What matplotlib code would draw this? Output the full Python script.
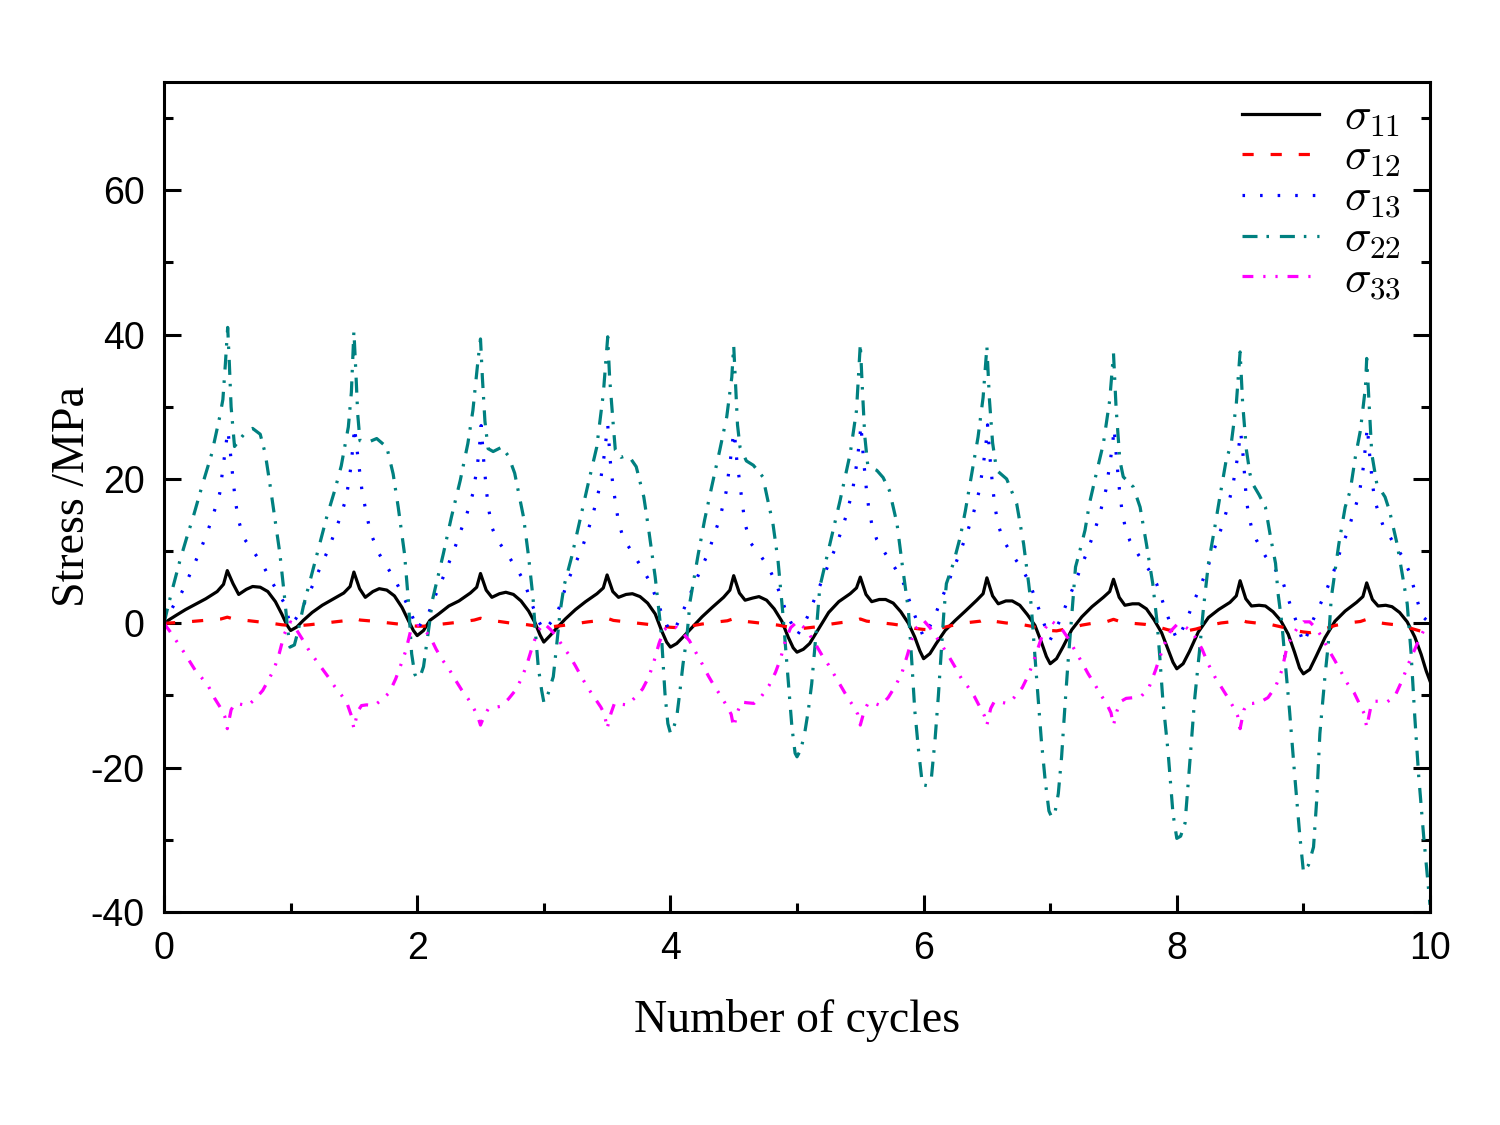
import numpy as np
import matplotlib
matplotlib.use('Agg')
import matplotlib.pyplot as plt
from matplotlib.ticker import MultipleLocator

plt.rcParams['mathtext.fontset'] = 'cm'
plt.rcParams['axes.unicode_minus'] = False

# ---------------- data ----------------
cycles = list(range(10))

# sigma_11 : sample phases inside each cycle and values per cycle
phase_11 = [0, 0.05, 0.1, 0.17, 0.25, 0.33, 0.42, 0.47, 0.5, 0.545, 0.59, 0.65, 0.7, 0.76, 0.82, 0.88, 0.93, 0.97]
s11_rows = [
    [0, 0.6, 1.15, 1.9, 2.65, 3.4, 4.4, 5.4, 7.3, 5.5, 4.0, 4.7, 5.1, 5.0, 4.4, 3.0, 1.3, -0.2],
    [-1.0, -0.5, 0.4, 1.5, 2.5, 3.3, 4.2, 5.1, 7.1, 4.8, 3.6, 4.4, 4.8, 4.6, 3.8, 2.2, 0.4, -1.0],
    [-1.7, -1.0, 0.4, 1.3, 2.4, 3.1, 4.2, 5.0, 6.9, 4.6, 3.6, 4.1, 4.3, 4.0, 3.1, 1.7, 0.1, -1.6],
    [-2.6, -1.7, -0.7, 0.6, 1.9, 3.0, 4.1, 4.9, 6.7, 4.4, 3.6, 4.0, 4.1, 3.7, 2.8, 1.3, -1.0, -2.6],
    [-3.3, -2.8, -1.9, -0.6, 0.9, 2.2, 3.6, 4.6, 6.6, 4.2, 3.2, 3.5, 3.7, 3.2, 2.0, 0.3, -1.9, -3.4],
    [-4.0, -3.6, -2.8, -0.8, 1.5, 3.0, 4.1, 4.9, 6.4, 4.0, 3.0, 3.3, 3.3, 2.8, 1.6, 0.0, -1.9, -3.8],
    [-4.9, -4.2, -2.8, -1.0, 0.4, 1.7, 3.2, 4.1, 6.3, 3.8, 2.7, 3.1, 3.1, 2.5, 1.2, -0.3, -2.6, -4.6],
    [-5.6, -4.9, -3.3, -0.9, 0.9, 2.3, 3.6, 4.4, 6.1, 3.6, 2.5, 2.7, 2.7, 2.0, 0.5, -1.3, -3.6, -5.4],
    [-6.3, -5.6, -3.9, -1.2, 0.8, 1.9, 2.9, 3.8, 5.9, 3.4, 2.4, 2.5, 2.4, 1.6, 0.4, -1.5, -4.0, -6.2],
    [-7.0, -6.4, -4.6, -2.0, 0.3, 1.7, 2.9, 3.7, 5.6, 3.3, 2.4, 2.5, 2.3, 1.5, 0.2, -1.9, -4.3, -6.6],
]
s11_end = -8.0

# sigma_12
phase_12 = [0, 0.05, 0.15, 0.25, 0.35, 0.45, 0.5, 0.55, 0.65, 0.75, 0.85, 0.93]
s12_rows = [
    [0, 0.05, 0.15, 0.3, 0.45, 0.6, 0.85, 0.6, 0.4, 0.2, 0.0, -0.2],
    [-0.3, -0.35, -0.2, 0.0, 0.2, 0.4, 0.7, 0.45, 0.3, 0.1, -0.1, -0.3],
    [-0.4, -0.4, -0.2, 0.0, 0.2, 0.45, 0.7, 0.45, 0.25, 0.0, -0.15, -0.35],
    [-0.45, -0.5, -0.3, -0.05, 0.2, 0.4, 0.7, 0.4, 0.2, 0.0, -0.2, -0.4],
    [-0.55, -0.6, -0.4, -0.1, 0.15, 0.35, 0.65, 0.35, 0.15, -0.05, -0.25, -0.5],
    [-0.65, -0.7, -0.5, -0.15, 0.1, 0.3, 0.6, 0.3, 0.1, -0.1, -0.35, -0.7],
    [-0.85, -0.9, -0.6, -0.2, 0.1, 0.3, 0.65, 0.3, 0.05, -0.1, -0.4, -0.8],
    [-1.0, -1.05, -0.7, -0.25, 0.05, 0.25, 0.55, 0.25, 0.0, -0.15, -0.5, -0.9],
    [-1.1, -1.15, -0.8, -0.3, 0.05, 0.25, 0.5, 0.2, 0.0, -0.2, -0.6, -1.0],
    [-1.2, -1.3, -0.9, -0.3, 0.05, 0.25, 0.55, 0.2, -0.05, -0.25, -0.7, -1.1],
]
s12_end = -1.4

# sigma_13
phase_13 = [0, 0.04, 0.08, 0.13, 0.18, 0.24, 0.3, 0.35, 0.39, 0.44, 0.475, 0.495, 0.505, 0.525, 0.548, 0.565, 0.59, 0.63, 0.7, 0.78, 0.84, 0.91, 0.95]
s13_rows = [
    [0, 1.3, 2.6, 3.9, 5.8, 8.2, 10.7, 13.0, 15.1, 18.0, 22.8, 25.5, 26.7, 23.5, 19.5, 16.8, 14.2, 11.8, 10.1, 8.1, 6.1, 4.0, 2.8],
    [-0.3, 0.6, 1.8, 3.5, 5.5, 8.0, 10.3, 12.7, 14.6, 17.4, 21.5, 25.0, 27.2, 24.0, 20.6, 18.2, 16.0, 12.6, 9.6, 7.3, 5.5, 3.0, 1.5],
    [-0.8, 0.2, 0.9, 3.3, 5.3, 7.9, 10.6, 13.1, 15.0, 18.0, 21.8, 25.1, 27.4, 22.6, 18.2, 15.8, 13.3, 11.6, 9.9, 7.7, 6.0, 2.5, 0.6],
    [-1.0, -0.2, 0.6, 2.5, 5.5, 7.9, 10.3, 12.9, 15.2, 18.8, 23.0, 26.0, 27.5, 22.5, 18.8, 16.9, 14.0, 11.7, 9.8, 7.5, 5.7, 2.4, 0.5],
    [-1.2, -0.6, 0.8, 3.0, 5.0, 7.5, 9.8, 12.5, 14.5, 18.2, 22.8, 25.8, 26.5, 22.5, 19.5, 17.0, 13.8, 11.2, 9.7, 7.6, 5.3, 1.8, 0.2],
    [-1.7, -0.6, 0.8, 3.0, 5.2, 7.8, 10.3, 12.8, 15.0, 18.5, 22.5, 25.5, 27.5, 22.8, 18.6, 16.2, 13.8, 11.6, 9.6, 7.5, 5.6, 2.0, 0.2],
    [-1.9, -0.7, 0.6, 2.9, 5.0, 7.7, 10.4, 12.9, 15.0, 18.4, 22.4, 25.3, 27.5, 22.8, 18.5, 16.0, 13.6, 11.5, 9.5, 7.5, 5.5, 2.0, 0.0],
    [-2.3, -0.9, 0.5, 2.8, 4.9, 7.6, 10.3, 12.8, 15.0, 18.5, 22.5, 25.2, 27.0, 22.6, 18.3, 15.9, 13.5, 11.4, 9.4, 7.4, 5.5, 1.9, -0.1],
    [-2.2, -1.0, 0.5, 2.9, 4.8, 7.6, 10.5, 13.1, 15.4, 18.8, 22.5, 25.1, 26.5, 23.0, 17.5, 15.2, 13.3, 11.5, 9.3, 7.4, 5.6, 1.8, 0.0],
    [-2.8, -1.2, 0.6, 2.5, 4.5, 7.2, 10.5, 12.7, 15.0, 17.8, 21.8, 25.5, 27.2, 23.0, 19.0, 17.0, 15.5, 13.5, 11.5, 9.3, 7.0, 2.5, 0.8],
]
s13_end = 0.0

# sigma_22 (explicit sample points)
s22_x = [
    0, 0.03, 0.06, 0.1, 0.126, 0.18, 0.23, 0.3, 0.377, 0.44, 0.465, 0.485, 0.503, 0.515, 0.53, 0.557, 0.6, 0.65, 0.7, 0.76, 0.8, 0.84, 0.88, 0.915, 0.95, 0.975, 0.995,
    1.03, 1.06, 1.1, 1.127, 1.2, 1.285, 1.35, 1.4, 1.456, 1.48, 1.5, 1.515, 1.53, 1.548, 1.6, 1.68, 1.76, 1.81, 1.85, 1.9, 1.93, 1.956, 1.98, 2.0,
    2.025, 2.05, 2.075, 2.1, 2.12, 2.206, 2.27, 2.34, 2.40, 2.44, 2.48, 2.5, 2.515, 2.535, 2.56, 2.6, 2.667, 2.72, 2.77, 2.84, 2.88, 2.915, 2.935, 2.956, 2.983, 3.0,
    3.015, 3.035, 3.075, 3.10, 3.128, 3.16, 3.22, 3.286, 3.35, 3.418, 3.47, 3.505, 3.52, 3.55, 3.565, 3.61, 3.667, 3.73, 3.79, 3.826, 3.88, 3.915, 3.93, 3.944, 3.957, 3.98, 4.0,
    4.02, 4.05, 4.076, 4.10, 4.13, 4.155, 4.22, 4.27, 4.326, 4.39, 4.445, 4.485, 4.5, 4.515, 4.53, 4.55, 4.6, 4.655, 4.73, 4.77, 4.81, 4.85, 4.89, 4.93, 4.96, 4.985, 5.0,
    5.03, 5.06, 5.09, 5.116, 5.155, 5.18, 5.26, 5.34, 5.42, 5.47, 5.5, 5.515, 5.535, 5.56, 5.63, 5.68, 5.73, 5.79, 5.83, 5.88, 5.906, 5.93, 5.96, 5.985, 6.0,
    6.03, 6.06, 6.09, 6.116, 6.14, 6.16, 6.18, 6.235, 6.29, 6.33, 6.38, 6.43, 6.47, 6.5, 6.52, 6.545, 6.577, 6.656, 6.735, 6.79, 6.83, 6.85, 6.88, 6.906, 6.93, 6.96, 6.99, 7.01,
    7.04, 7.064, 7.09, 7.116, 7.14, 7.17, 7.2, 7.235, 7.275, 7.31, 7.37, 7.42, 7.47, 7.5, 7.52, 7.55, 7.577, 7.656, 7.71, 7.76, 7.81, 7.845, 7.865, 7.89, 7.93, 7.97, 8.0,
    8.03, 8.065, 8.10, 8.14, 8.18, 8.21, 8.25, 8.30, 8.34, 8.39, 8.43, 8.47, 8.5, 8.52, 8.55, 8.578, 8.6, 8.65, 8.7, 8.74, 8.78, 8.80, 8.83, 8.855, 8.89, 8.93, 8.97, 9.0,
    9.04, 9.08, 9.105, 9.13, 9.17, 9.197, 9.22, 9.28, 9.33, 9.37, 9.41, 9.45, 9.49, 9.5, 9.52, 9.54, 9.58, 9.645, 9.68, 9.74, 9.78, 9.82, 9.85, 9.88, 9.91, 9.95, 10.0,
]
s22_y = [
    0, 2.2, 4.3, 7.0, 8.7, 11.9, 14.7, 19.0, 23.5, 28.6, 31.0, 36.0, 41.0, 36.5, 30.0, 24.5, 25.5, 26.6, 27.0, 26.2, 23.5, 18.9, 14.0, 9.7, 4.0, -0.5, -3.3,
    -3.0, -1.0, 2.3, 4.1, 9.0, 14.7, 18.5, 21.8, 27.2, 32.0, 40.5, 35.0, 29.0, 25.3, 25.0, 25.6, 24.4, 20.7, 16.1, 9.6, 3.2, -4.2, -7.0, -7.7,
    -7.3, -6.0, -2.8, 0.4, 3.2, 9.6, 14.7, 19.8, 24.9, 29.5, 36.4, 39.4, 34.0, 28.0, 24.2, 23.8, 24.4, 23.2, 20.8, 14.7, 9.2, 3.5, -1.5, -6.0, -9.3, -10.9,
    -10.6, -9.7, -7.4, -3.3, 1.5, 5.2, 9.2, 14.3, 19.3, 24.4, 31.8, 39.7, 34.0, 27.2, 24.0, 23.0, 23.3, 21.7, 17.5, 13.3, 6.4, 0.8, -1.9, -6.0, -9.7, -13.9, -15.2,
    -14.8, -13.0, -9.3, -5.6, -1.9, 3.0, 9.6, 14.3, 18.9, 24.0, 28.6, 34.1, 38.5, 33.0, 27.5, 24.4, 22.5, 21.9, 20.3, 17.0, 13.8, 8.7, 1.0, -7.9, -14.4, -18.0, -18.5,
    -17.5, -15.3, -12.0, -8.4, -0.5, 5.0, 11.0, 17.0, 23.5, 29.5, 38.7, 33.0, 26.0, 21.7, 21.2, 20.2, 18.4, 13.8, 8.3, 1.8, -5.1, -12.0, -17.6, -21.5, -22.4,
    -22.5, -21.7, -16.2, -10.2, -3.7, 1.5, 5.5, 8.3, 12.0, 15.6, 20.7, 25.8, 31.3, 38.3, 31.0, 25.0, 21.2, 20.0, 16.6, 11.0, 5.5, 2.5, -4.7, -10.7, -16.2, -21.7, -26.0, -26.8,
    -26.0, -23.6, -18.5, -11.6, -5.6, 1.0, 7.8, 10.1, 12.9, 16.6, 21.2, 24.9, 30.9, 37.4, 30.0, 22.6, 20.3, 18.9, 16.1, 11.0, 5.5, 0.0, -4.5, -10.7, -17.6, -26.4, -29.8,
    -29.5, -27.7, -19.9, -10.7, -3.7, 2.0, 8.3, 13.3, 17.5, 22.6, 24.9, 30.4, 37.6, 30.5, 24.0, 20.7, 19.3, 17.8, 16.1, 12.0, 8.3, 4.1, 0.0, -5.1, -12.0, -20.8, -29.1, -34.4,
    -33.5, -31.0, -24.5, -15.3, -7.4, -2.8, 3.5, 11.0, 16.1, 18.4, 23.0, 26.7, 32.7, 36.7, 30.0, 23.5, 19.3, 17.5, 15.6, 11.0, 6.9, 2.7, -4.0, -13.0, -21.0, -29.5, -39.0,
]

# sigma_33
phase_33 = [0, 0.05, 0.1, 0.15, 0.2, 0.25, 0.3, 0.35, 0.4, 0.45, 0.48, 0.5, 0.53, 0.56, 0.6, 0.66, 0.72, 0.78, 0.83, 0.87, 0.91, 0.95]
s33_rows = [
    [0, -1.2, -2.5, -3.8, -5.2, -6.6, -7.6, -8.7, -10.4, -11.8, -12.9, -14.6, -12.0, -11.1, -11.2, -11.4, -10.5, -9.3, -7.7, -6.3, -4.2, -1.5],
    [0.2, -1.0, -2.4, -3.9, -5.1, -6.3, -7.5, -8.8, -9.9, -11.3, -12.8, -14.6, -12.2, -11.4, -11.3, -11.4, -10.6, -9.6, -7.7, -5.8, -3.8, -0.9],
    [-0.3, -0.8, -1.8, -3.6, -5.1, -6.3, -7.8, -9.2, -10.4, -11.9, -13.0, -14.1, -12.8, -11.9, -11.7, -11.5, -10.5, -9.2, -7.4, -5.5, -3.2, -1.2],
    [0, -0.8, -1.8, -3.2, -4.4, -5.9, -7.5, -9.0, -10.3, -11.6, -12.6, -14.6, -12.5, -11.0, -11.2, -11.3, -10.3, -9.1, -7.4, -5.3, -2.8, -0.9],
    [-0.3, -0.6, -1.4, -2.4, -4.0, -5.6, -7.3, -8.8, -10.1, -11.6, -12.6, -14.4, -12.3, -10.9, -11.0, -11.1, -10.1, -8.6, -6.8, -4.9, -2.3, -0.6],
    [0.2, -0.5, -1.6, -3.0, -4.5, -5.8, -7.3, -8.8, -10.3, -11.6, -12.6, -14.1, -12.2, -11.1, -11.0, -11.4, -10.3, -8.6, -6.8, -4.5, -2.1, -0.5],
    [0.4, -0.6, -1.9, -3.2, -4.6, -6.1, -7.7, -8.8, -10.1, -11.8, -12.8, -14.1, -11.8, -10.8, -10.9, -11.1, -10.2, -8.9, -7.1, -5.2, -3.1, -1.0],
    [0.4, -0.2, -1.0, -2.3, -3.9, -5.4, -7.0, -8.4, -9.9, -11.3, -12.4, -14.1, -12.0, -10.8, -10.4, -10.3, -10.1, -8.9, -6.6, -4.5, -2.6, -1.1],
    [-0.2, -0.3, -0.9, -2.0, -3.6, -5.7, -7.4, -8.8, -10.2, -11.7, -12.8, -14.6, -12.0, -11.1, -11.1, -10.9, -10.3, -8.8, -6.5, -3.3, -1.8, -0.7],
    [0.2, 0.2, -0.7, -2.0, -3.7, -5.2, -6.8, -8.4, -9.6, -11.4, -12.5, -14.4, -11.8, -10.8, -10.8, -10.9, -10.2, -7.9, -5.6, -4.0, -2.4, -1.0],
]
s33_end = -0.8

labels = [r'$\sigma_{11}$', r'$\sigma_{12}$', r'$\sigma_{13}$', r'$\sigma_{22}$', r'$\sigma_{33}$']
colors = ['black', '#ff0000', '#0000ff', '#008080', '#ff00ff']


def assemble(phases, rows, end):
    xs, ys = [], []
    for k, row in zip(cycles, rows):
        xs.extend([k + p for p in phases])
        ys.extend(row)
    xs.append(10.0)
    ys.append(end)
    return np.array(xs), np.array(ys)


x11, y11 = assemble(phase_11, s11_rows, s11_end)
x12, y12 = assemble(phase_12, s12_rows, s12_end)
x13, y13 = assemble(phase_13, s13_rows, s13_end)
x33, y33 = assemble(phase_33, s33_rows, s33_end)
x22, y22 = np.array(s22_x), np.array(s22_y)

# ---------------- figure ----------------
W, H = 1500, 1125
fig = plt.figure(figsize=(15, 11.25), dpi=100)
ax = fig.add_axes([164 / W, 1 - 912 / H, (1430 - 164) / W, (912 - 82) / H])

lw = 2.3
ax.plot(x11, y11, color=colors[0], lw=lw, ls='-', label=labels[0])
ax.plot(x12, y12, color=colors[1], lw=lw, ls=(0, (3.5, 5.3)), label=labels[1])
ax.plot(x13, y13, color=colors[2], lw=lw, ls=(0, (0.8, 4.7)), label=labels[2])
ax.plot(x22, y22, color=colors[3], lw=lw, ls=(0, (4.7, 2.8, 0.8, 3.4)), label=labels[3])
ax.plot(x33, y33, color=colors[4], lw=lw, ls=(0, (3.4, 3.1, 0.7, 3.1, 0.7, 3.1)), label=labels[4])

ax.set_xlim(0, 10)
ax.set_ylim(-40, 75)
ax.xaxis.set_major_locator(MultipleLocator(2))
ax.xaxis.set_minor_locator(MultipleLocator(1))
ax.yaxis.set_major_locator(MultipleLocator(20))
ax.yaxis.set_minor_locator(MultipleLocator(10))
ax.set_yticks([-40, -20, 0, 20, 40, 60])

for s in ax.spines.values():
    s.set_linewidth(2.2)

ax.tick_params(which='both', direction='in', top=False, right=True, width=2.2)
ax.tick_params(which='major', length=12)
ax.tick_params(which='minor', length=6.5)
ax.tick_params(axis='x', which='major', pad=14)
ax.tick_params(axis='y', which='major', pad=14)
for lab in ax.get_xticklabels() + ax.get_yticklabels():
    lab.set_fontfamily('Liberation Sans')
    lab.set_fontsize(27)

ax.set_xlabel('Number of cycles', fontfamily='Liberation Serif', fontsize=33)
ax.set_ylabel('Stress /MPa', fontfamily='Liberation Serif', fontsize=33)
ax.xaxis.set_label_coords(0.5, -0.105)
ax.yaxis.set_label_coords(-0.055, 0.5)

leg = ax.legend(loc='upper right', bbox_to_anchor=(0.977, 0.984), frameon=False,
                fontsize=32, handlelength=1.75, handletextpad=0.55, labelspacing=-0.07,
                borderpad=0, borderaxespad=0)

fig.savefig('out.png', dpi=100)
